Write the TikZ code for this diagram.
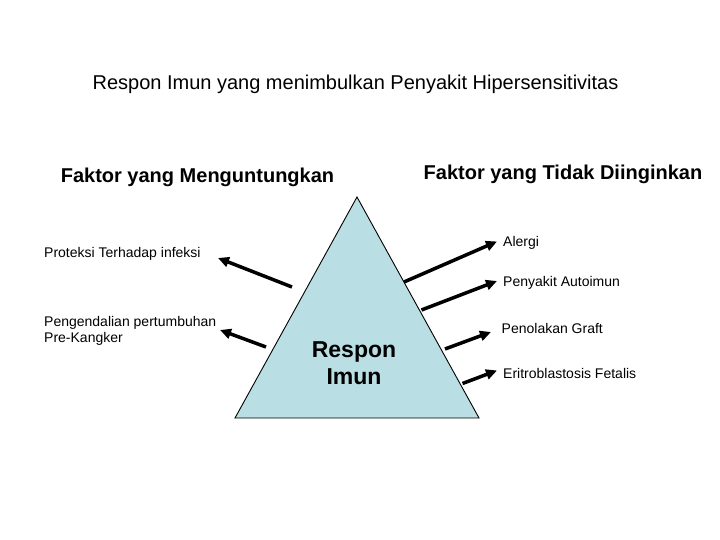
\documentclass[tikz,border=0pt]{standalone}
\usepackage{fontspec}
\setmainfont{Liberation Sans}
\definecolor{imuncyan}{RGB}{185, 222, 227}
\usetikzlibrary{arrows.meta, positioning}

\begin{document}
\begin{tikzpicture}[
  x=1pt, y=-1pt,
  lbl/.style={anchor=west, inner sep=3pt, align=left, font=\fontsize{14}{16.5}\selectfont},
  hdr/.style={inner sep=2pt, font=\fontsize{20}{22}\selectfont\bfseries},
  arr/.style={line width=3.5pt, -{Triangle[length=11pt, width=10pt]}}
]
  \useasboundingbox (0,0) rectangle (720,540);

  % Titles
  \node[inner sep=2pt, font=\fontsize{20}{22}\selectfont] (title) at (355.5, 84) {Respon Imun yang menimbulkan Penyakit Hipersensitivitas};
  \node[hdr] (untung) at (197.5, 177) {Faktor yang Menguntungkan};
  \node[hdr] (tidak) at (563, 174) {Faktor yang Tidak Diinginkan};

  % Triangle
  \coordinate (apex) at (357, 197);
  \coordinate (bl) at (235, 418);
  \coordinate (br) at (479, 418);
  \filldraw[fill=imuncyan, draw=black, line width=0.9pt] (apex) -- (br) -- (bl) -- cycle;
  \node[align=center, font=\fontsize{23}{27}\selectfont\bfseries] (respon) at (354, 363) {Respon\\Imun};

  % Labels
  \node[lbl] (proteksi) at (41, 254) {Proteksi Terhadap infeksi};
  \node[lbl] (kanker) at (41, 331) {Pengendalian pertumbuhan\\Pre-Kangker};
  \node[lbl] (alergi) at (500, 242.5) {Alergi};
  \node[lbl] (autoimun) at (500, 282.5) {Penyakit Autoimun};
  \node[lbl] (graft) at (498.5, 328.5) {Penolakan Graft};
  \node[lbl] (eritro) at (500, 373.5) {Eritroblastosis Fetalis};

  % Arrows
  \coordinate (s1) at (292, 287);   \coordinate (t1) at (218, 258);
  \coordinate (s2) at (266, 347);   \coordinate (t2) at (220, 330);
  \coordinate (s3) at (404, 282);   \coordinate (t3) at (497, 241.5);
  \coordinate (s4) at (421.5, 310); \coordinate (t4) at (497, 281);
  \coordinate (s5) at (445, 349);   \coordinate (t5) at (491, 332);
  \coordinate (s6) at (462.5, 383.5); \coordinate (t6) at (497, 370.5);
  \foreach \s/\t in {s1/t1, s2/t2, s3/t3, s4/t4, s5/t5, s6/t6}
    \draw[arr] (\s) -- (\t);
\end{tikzpicture}
\end{document}
